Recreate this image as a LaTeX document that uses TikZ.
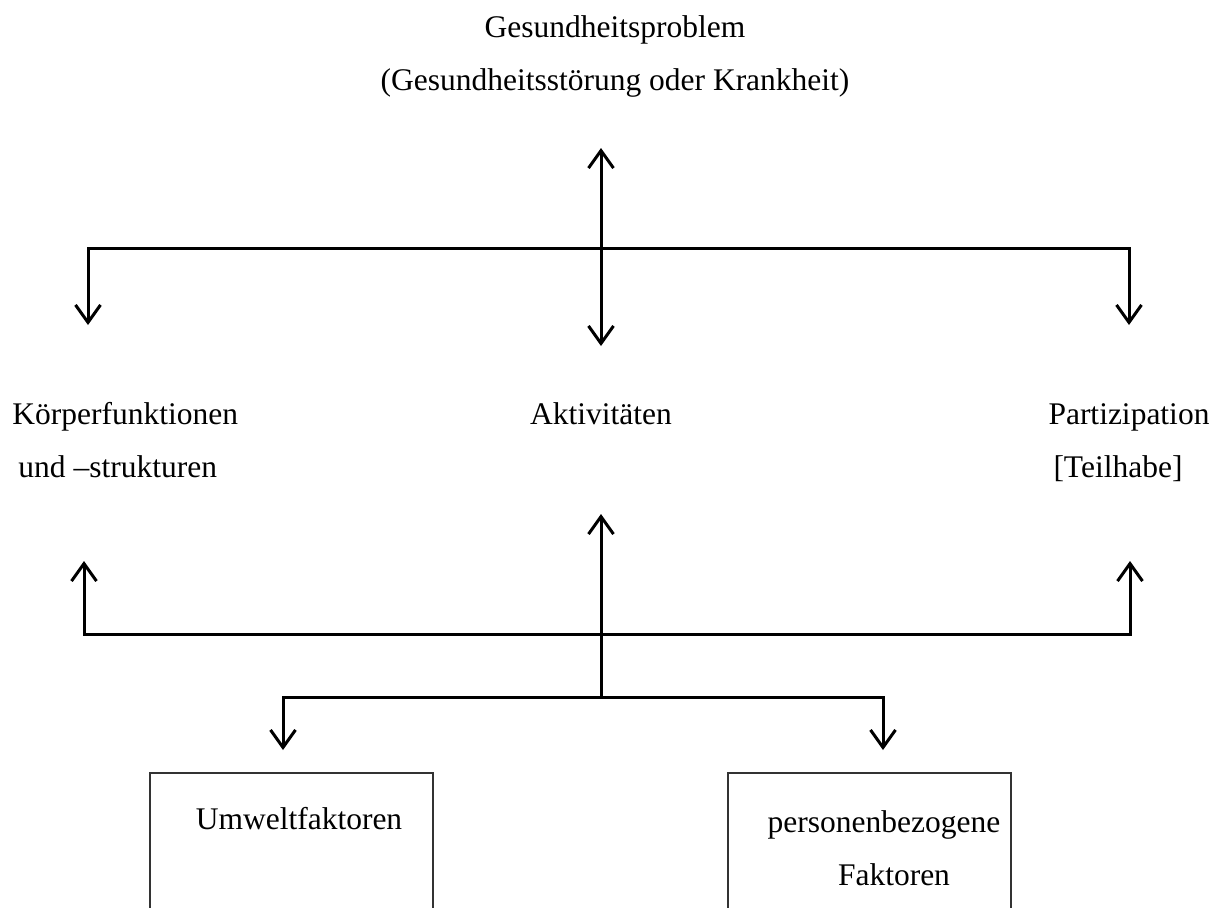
\documentclass[tikz,border=0pt]{standalone}
\usepackage{fontspec}
\setmainfont{Liberation Serif}
\usetikzlibrary{arrows.meta}

\tikzset{
  txt/.style={font=\fontsize{12.6}{21.2}\selectfont, inner sep=0pt},
  linie/.style={line width=1.2pt},
  kasten/.style={line width=0.8pt, black!80},
}

\begin{document}
\begin{tikzpicture}[x=0.4pt,y=-0.4pt, >={Straight Barb[length=7pt,width=10pt]}]
  \useasboundingbox (0,0) rectangle (1222,908);

  % texts (base = baseline of the last line)
  \node[txt, anchor=base, align=center] (problem) at (615,90)
    {Gesundheitsproblem\\(Gesundheitsstörung oder Krankheit)};
  \node[txt, anchor=base west, align=left] (koerper) at (12,477)
    {Körperfunktionen\\\hspace{2.4pt}und –strukturen};
  \node[txt, anchor=base] (aktiv) at (601,424) {Aktivitäten};
  \node[txt, anchor=base west, align=left] (partiz) at (1048,477)
    {Partizipation\\\hspace{2pt}[Teilhabe]};
  \node[txt, anchor=base] (umwelt) at (299,829) {Umweltfaktoren};
  \node[txt, anchor=base, align=center] (person) at (884,885)
    {personenbezogene\\\hspace{8pt}Faktoren};

  % boxes (open at the bottom)
  \draw[kasten] (150,908) |- (433,773) -- (433,908);
  \draw[kasten] (728,908) |- (1011,773) -- (1011,908);

  % junctions
  \coordinate (oben)  at (601,148);
  \coordinate (mitte) at (601,346);
  \coordinate (bar1L) at (88,248);
  \coordinate (bar1R) at (1129,248);
  \coordinate (k1)    at (88,325);
  \coordinate (p1)    at (1129,325);
  \coordinate (akt)   at (601,514);
  \coordinate (fuss)  at (601,697);
  \coordinate (bar2L) at (84,634);
  \coordinate (bar2R) at (1130,634);
  \coordinate (k2)    at (84,561);
  \coordinate (p2)    at (1130,561);
  \coordinate (bar3L) at (283,697);
  \coordinate (bar3R) at (883,697);
  \coordinate (u)     at (283,750);
  \coordinate (pz)    at (883,750);

  % arrows
  \draw[linie, <->] (oben) -- (mitte);
  \draw[linie, <->] (k1) -- (bar1L) -- (bar1R) -- (p1);
  \draw[linie, ->] (fuss) -- (akt);
  \draw[linie, <->] (k2) -- (bar2L) -- (bar2R) -- (p2);
  \draw[linie, <->] (u) -- (bar3L) -- (bar3R) -- (pz);
\end{tikzpicture}
\end{document}
